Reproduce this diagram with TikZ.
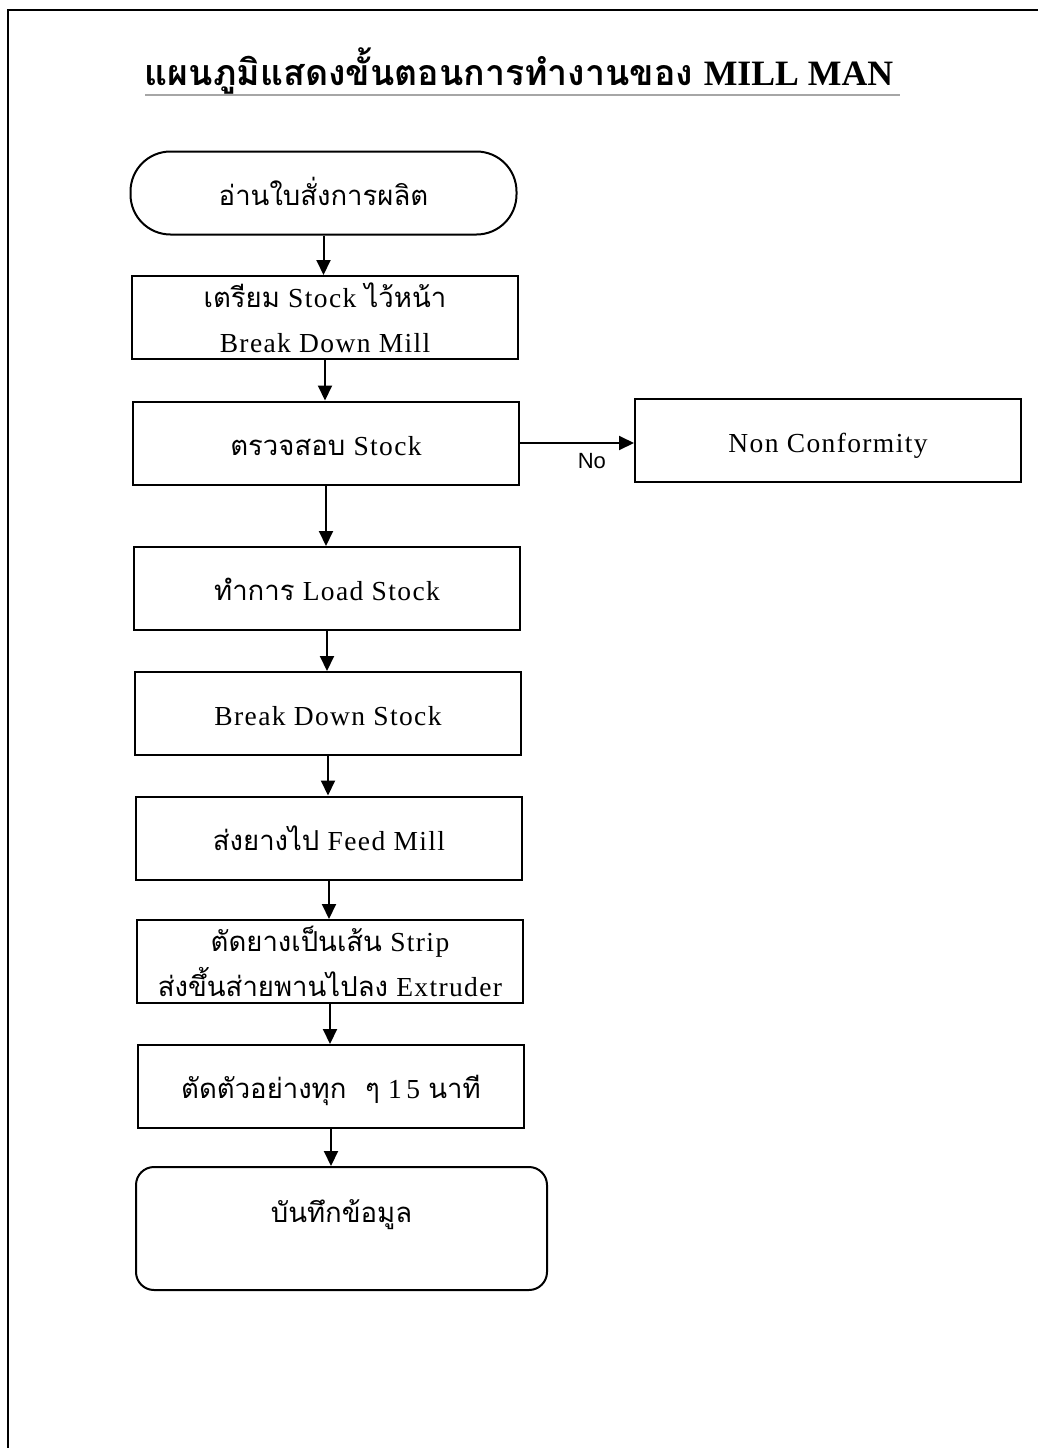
\documentclass[tikz,border=0pt]{standalone}
\usepackage{fontspec}
\setmainfont{Liberation Serif}[LetterSpace=5]
\newfontfamily\thai[Script=Thai]{Loma}
\newfontfamily\thaititle[Script=Thai]{Loma}
\newfontfamily\labelsans{Liberation Sans}
\newfontfamily\titlelatin{Liberation Serif}
\usetikzlibrary{arrows.meta}

\tikzset{
  flow/.style={line width=2pt, -{Triangle[length=15pt,width=14pt]}},
  stepbox/.style={draw, line width=2pt, rectangle, minimum width=386pt,
    minimum height=83pt, inner sep=0pt, align=center,
    text height=24pt, text depth=0pt,
    font=\fontsize{27.5}{45}\selectfont},
  twoline/.style={text height=69pt, text depth=0pt},
  terminal/.style={stepbox, rounded corners=40pt},
  endbox/.style={stepbox, rounded corners=18pt, minimum width=411pt,
    minimum height=123pt, text depth=37pt},
}

\begin{document}
\begin{tikzpicture}[x=1pt, y=-1pt]
  \useasboundingbox (0,0) rectangle (1038,1448);
  \fill[white] (0,0) rectangle (1038,1448);

  % page frame (top and left edges)
  \draw[line width=2pt] (8,1448) -- (8,10) -- (1038,10);

  % heading
  \node[inner sep=0pt, anchor=base] (title) at (519,85)
    {\fontsize{35.7}{40}\selectfont\bfseries
     {\thaititle แผนภูมิแสดงขั้นตอนการทำงานของ} {\titlelatin MILL MAN}};
  \draw[gray!70, line width=1.2pt] (145,95) -- (900,95);

  % process steps
  \node[terminal] (s1) at (323.5,193) {\thai อ่านใบสั่งการผลิต};
  \node[stepbox, twoline] (s2) at (325,317.5) {{\thai เตรียม} Stock {\thai ไว้หน้า}\\Break Down Mill};
  \node[stepbox] (s3) at (326,443) {{\thai ตรวจสอบ} Stock};
  \node[stepbox] (nc) at (828,440.5) {Non Conformity};
  \node[stepbox] (s4) at (327,588.5) {{\thai ทำการ} Load Stock};
  \node[stepbox] (s5) at (328,713.5) {Break Down Stock};
  \node[stepbox] (s6) at (329,838) {{\thai ส่งยางไป} Feed Mill};
  \node[stepbox, twoline] (s7) at (330,961.5) {{\thai ตัดยางเป็นเส้น} Strip\\{\thai ส่งขึ้นส่ายพานไปลง} Extruder};
  \node[stepbox] (s8) at (331,1086.5) {{\thai ตัดตัวอย่างทุก\ \ ๆ} 1\,5 {\thai นาที}};
  \node[endbox] (s9) at (341.5,1228.5) {\thai บันทึกข้อมูล};

  % connectors
  \foreach \a/\b in {s1/s2, s2/s3, s3/s4, s4/s5, s5/s6, s6/s7, s7/s8, s8/s9}
    \draw[flow] (\a.south) -- (\a.south |- \b.north);
  \draw[flow] (s3.east) -- (s3.east -| nc.west)
    node[pos=0.63, below=6pt, font=\labelsans\fontsize{22}{24}\selectfont] (no) {No};
\end{tikzpicture}
\end{document}
